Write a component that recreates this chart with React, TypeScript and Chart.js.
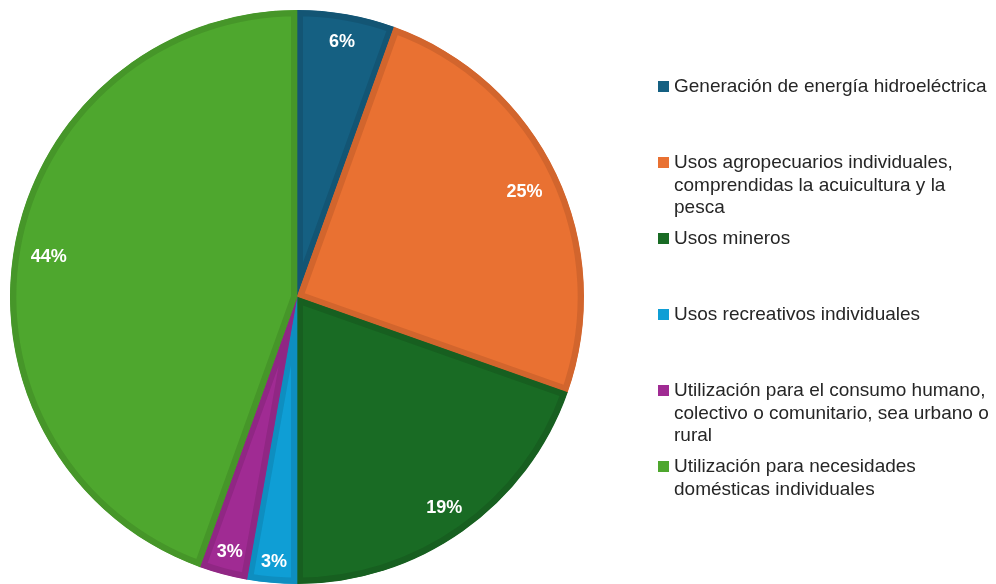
import React, { useEffect, useRef } from "react";
import { Chart, registerables } from "chart.js";

Chart.register(...registerables);

const categories: string[][] = [
  ["Generación de energía hidroeléctrica"],
  ["Usos agropecuarios individuales,", "comprendidas la acuicultura y la", "pesca"],
  ["Usos mineros"],
  ["Usos recreativos individuales"],
  ["Utilización para el consumo humano,", "colectivo o comunitario, sea urbano o", "rural"],
  ["Utilización para necesidades", "domésticas individuales"],
];
const values: number[] = [5.5, 24.9, 19.6, 2.8, 2.7, 44.5];
const percentLabels: string[] = ["6%", "25%", "19%", "3%", "3%", "44%"];
const fillColors: string[] = ["#156082", "#E97132", "#196B24", "#0F9ED5", "#A02B93", "#4EA72E"];
const borderColors: string[] = ["#135574", "#D2652D", "#175F20", "#0E8EC0", "#902784", "#469629"];

const FONT = "'Liberation Sans', Arial, sans-serif";

const labelPlugin = {
  id: "sliceLabels",
  afterDatasetsDraw(chart: any) {
    const ctx = chart.ctx;
    const meta = chart.getDatasetMeta(0);
    ctx.save();
    ctx.font = `bold 18px ${FONT}`;
    ctx.fillStyle = "#ffffff";
    ctx.textAlign = "center";
    ctx.textBaseline = "middle";
    meta.data.forEach((arc: any, i: number) => {
      const p = arc.getProps(["x", "y", "startAngle", "endAngle", "outerRadius"], true);
      const mid = (p.startAngle + p.endAngle) / 2;
      const ux = Math.cos(mid);
      const uy = Math.sin(mid);
      const hw = ctx.measureText(percentLabels[i]).width / 2;
      const hh = 7;
      const r = p.outerRadius - 16 - (hw * Math.abs(ux) + hh * Math.abs(uy));
      ctx.fillText(percentLabels[i], p.x + ux * r, p.y + uy * r + 3);
    });
    ctx.restore();
  },
};

const legendPlugin = {
  id: "sideLegend",
  afterDraw(chart: any) {
    const ctx = chart.ctx;
    ctx.save();
    ctx.font = `19px ${FONT}`;
    ctx.textBaseline = "middle";
    ctx.textAlign = "left";
    categories.forEach((lines, i) => {
      const y0 = 86 + i * 76;
      ctx.fillStyle = fillColors[i];
      ctx.fillRect(658, y0 - 5, 11, 11);
      ctx.fillStyle = "#262626";
      lines.forEach((line, j) => {
        ctx.fillText(line, 674, y0 + 1 + j * 22.5);
      });
    });
    ctx.restore();
  },
};

export default function App() {
  const ref = useRef<HTMLCanvasElement | null>(null);
  useEffect(() => {
    if (!ref.current) return;
    const chart = new Chart(ref.current, {
      type: "pie",
      data: {
        labels: categories.map((l) => l.join(" ")),
        datasets: [
          {
            data: values,
            backgroundColor: fillColors,
            borderColor: borderColors,
            borderWidth: 6,
            borderAlign: "inner",
          } as any,
        ],
      },
      options: {
        animation: false,
        responsive: false,
        maintainAspectRatio: false,
        layout: { padding: { left: 10, top: 10, right: 412, bottom: 0 } },
        plugins: {
          legend: { display: false },
          tooltip: { enabled: false },
        },
      },
      plugins: [labelPlugin, legendPlugin],
    });
    return () => chart.destroy();
  }, []);
  return (
    <div style={{ position: "fixed", left: 0, top: 0, width: 996, height: 584, background: "#fff" }}>
      <canvas ref={ref} width={996} height={584} style={{ width: 996, height: 584 }} />
    </div>
  );
}
